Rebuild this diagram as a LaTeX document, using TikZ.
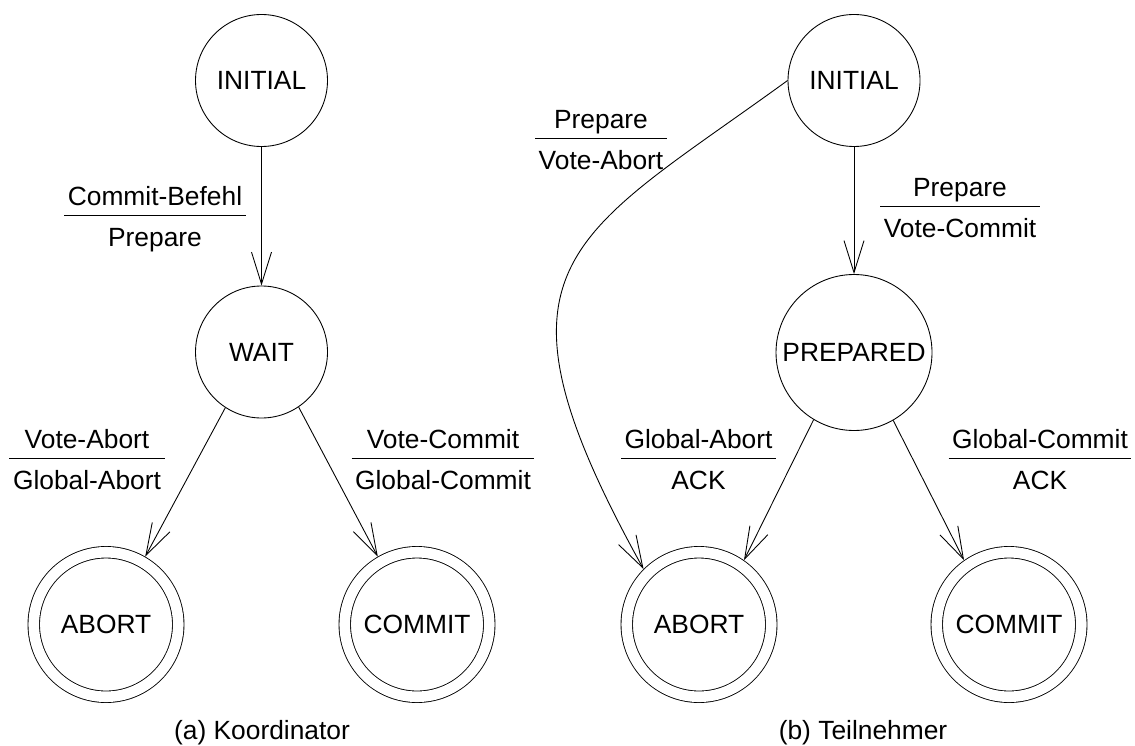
\documentclass[tikz,border=0pt]{standalone}
\usepackage{fontspec}
\setmainfont{Liberation Sans}
\usepackage{tikz}
\usetikzlibrary{arrows.meta}
\setlength{\arrayrulewidth}{0.5pt}
\newcommand{\translabel}[2]{\begin{tabular}{@{\hspace{2pt}}c@{\hspace{2pt}}}\rule[-5.1pt]{0pt}{22.1pt}#1\\\hline\rule[-5.1pt]{0pt}{22.2pt}#2\end{tabular}}

\begin{document}
\begin{tikzpicture}[
    font=\fontsize{15}{18}\selectfont,
    line width=0.5pt,
    state/.style={draw,circle,inner sep=0pt,minimum size=2.64cm},
    final/.style={draw,circle,inner sep=0pt,minimum size=2.89cm,double,double distance=0.212cm,outer sep=0.124cm},
    trans/.style={->,>={Straight Barb[length=0.64cm,width=0.4cm]}}
  ]
  \useasboundingbox (0,0) rectangle (22.7,-14.9);

  % (a) Koordinator
  \node[state] (initK) at (5.23,-1.61) {INITIAL};
  \node[state] (wait) at (5.23,-7.04) {WAIT};
  \node[final] (abortK) at (2.12,-12.49) {ABORT};
  \node[final] (commitK) at (8.34,-12.49) {COMMIT};

  \draw[trans] (initK) -- (wait);
  \draw[trans] (wait.237) -- (abortK.60);
  \draw[trans] (wait.304) -- (commitK.120);

  \node (lblBefehl) at (3.10,-4.32) {\translabel{Commit-Befehl}{Prepare}};
  \node (lblVoteAbort) at (1.74,-9.18) {\translabel{Vote-Abort}{Global-Abort}};
  \node (lblVoteCommit) at (8.86,-9.18) {\translabel{Vote-Commit}{Global-Commit}};

  \node (capK) at (5.24,-14.66) {(a) Koordinator};

  % (b) Teilnehmer
  \node[state] (initT) at (17.08,-1.61) {INITIAL};
  \node[state,minimum size=3.12cm] (prepared) at (17.08,-7.05) {PREPARED};
  \node[final] (abortT) at (13.98,-12.49) {ABORT};
  \node[final] (commitT) at (20.18,-12.49) {COMMIT};

  \draw[trans] (initT) -- (prepared);
  \draw[trans] (initT.west) to[out=216,in=119,out distance=5.4cm,in distance=7cm] (abortT.135);
  \draw[trans] (prepared.239) -- (abortT.55);
  \draw[trans] (prepared.300) -- (commitT.125);

  \node (lblPrepAbort) at (12.02,-2.78) {\translabel{Prepare}{Vote-Abort}};
  \node (lblPrepCommit) at (19.20,-4.14) {\translabel{Prepare}{Vote-Commit}};
  \node (lblGlobAbort) at (13.97,-9.18) {\translabel{Global-Abort}{ACK}};
  \node (lblGlobCommit) at (20.80,-9.18) {\translabel{Global-Commit}{ACK}};

  \node (capT) at (17.26,-14.66) {(b) Teilnehmer};
\end{tikzpicture}
\end{document}
